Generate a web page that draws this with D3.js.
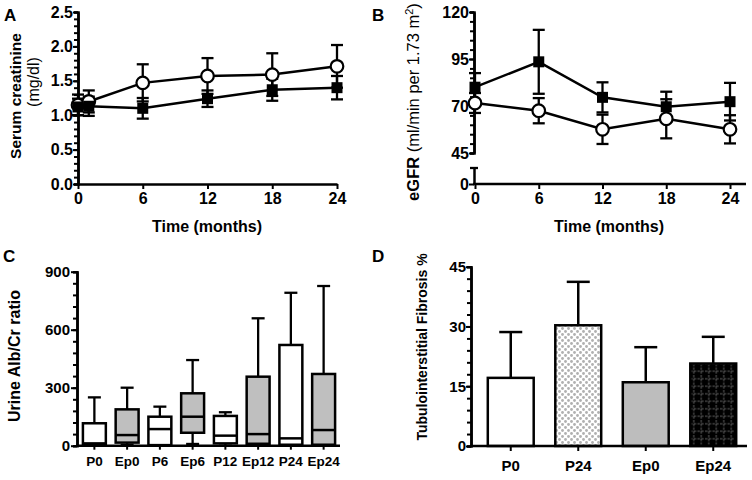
<!DOCTYPE html>
<html><head><meta charset="utf-8">
<script src="https://cdn.jsdelivr.net/npm/d3@7"></script>
<style>body{margin:0;background:#fff} svg{display:block}</style>
</head><body>
<svg id="c" width="752" height="480"></svg>
<script>
// ---- Data ----
const monthsA = [0, 1, 6, 12, 18, 24];
const creatOpen = [1.15, 1.20, 1.47, 1.57, 1.59, 1.71];
const creatOpenErr = [0.15, 0.16, 0.27, 0.26, 0.31, 0.31];
const creatFilled = [1.12, 1.13, 1.10, 1.24, 1.37, 1.40];
const creatFilledErr = [0.12, 0.14, 0.15, 0.12, 0.16, 0.17];
const creatTicks = [0, 0.5, 1.0, 1.5, 2.0, 2.5];

const monthsB = [0, 6, 12, 18, 24];
const egfrFilled = [80, 93.5, 74.6, 69.6, 72.3];
const egfrFilledErr = [7.5, 17, 8, 8, 10];
const egfrOpen = [71.6, 67.5, 57.6, 63.2, 57.6];
const egfrOpenErr = [5.3, 6.7, 7.8, 10.4, 7.5];
const egfrTicks = [45, 70, 95, 120];
const monthTicks = [0, 6, 12, 18, 24];

const boxCats = ["P0", "Ep0", "P6", "Ep6", "P12", "Ep12", "P24", "Ep24"];
const boxMin = [0, 5, 0, 9, 0, 0, 0, 0];
const boxQ1 = [3, 16, 3, 67, 12, 10, 5, 5];
const boxMed = [12, 55, 86, 150, 52, 60, 38, 81];
const boxQ3 = [116, 188, 150, 271, 154, 357, 521, 371];
const boxMax = [250, 300, 202, 443, 173, 659, 791, 826];
const albTicks = [0, 300, 600, 900];

const fibCats = ["P0", "P24", "Ep0", "Ep24"];
const fibMean = [17.1, 30.3, 16.0, 20.7];
const fibSD = [11.5, 10.9, 8.8, 6.7];
const fibTicks = [0, 15, 30, 45];

// ---- Setup ----
const FONT = '"Liberation Sans", Arial, Helvetica, sans-serif';
const svg = d3.select("#c");
const defs = svg.append("defs");

// patterns
const pDots = defs.append("pattern").attr("id", "dots").attr("patternUnits", "userSpaceOnUse")
  .attr("width", 6).attr("height", 6);
pDots.append("rect").attr("width", 6).attr("height", 6).attr("fill", "#fff");
pDots.append("circle").attr("cx", 1.5).attr("cy", 1.5).attr("r", 1.4).attr("fill", "#b0b0b0");
pDots.append("circle").attr("cx", 4.5).attr("cy", 4.5).attr("r", 1.4).attr("fill", "#b0b0b0");

const pGrid = defs.append("pattern").attr("id", "grid").attr("patternUnits", "userSpaceOnUse")
  .attr("width", 7.5).attr("height", 7.5);
pGrid.append("rect").attr("width", 7.5).attr("height", 7.5).attr("fill", "#000");
pGrid.append("line").attr("x1", 3.75).attr("x2", 3.75).attr("y1", 0).attr("y2", 7.5)
  .attr("stroke", "#777").attr("stroke-width", 0.8).attr("stroke-dasharray", "2.5,1.25");
pGrid.append("line").attr("y1", 3.75).attr("y2", 3.75).attr("x1", 0).attr("x2", 7.5)
  .attr("stroke", "#777").attr("stroke-width", 0.8).attr("stroke-dasharray", "2.5,1.25");

function styleAxis(g, fs) {
  g.attr("font-family", FONT);
  g.select(".domain").attr("stroke-width", 2.5).attr("stroke", "#000");
  g.selectAll(".tick line").attr("stroke-width", 2).attr("stroke", "#000");
  g.selectAll(".tick text").attr("font-size", fs).attr("font-weight", "bold").attr("fill", "#000");
}

function panelLetter(t, x, y) {
  svg.append("text").attr("x", x).attr("y", y).attr("font-family", FONT)
    .attr("font-size", 17).attr("font-weight", "bold").text(t);
}

function errBars(g, xs, ys, vals, errs, cap, both) {
  vals.forEach((v, i) => {
    const x = xs(i);
    const lo = both ? v - errs[i] : v;
    const hi = v + errs[i];
    g.append("line").attr("x1", x).attr("x2", x).attr("y1", ys(lo)).attr("y2", ys(hi))
      .attr("stroke", "#000").attr("stroke-width", 2.3);
    g.append("line").attr("x1", x - cap / 2).attr("x2", x + cap / 2).attr("y1", ys(hi)).attr("y2", ys(hi))
      .attr("stroke", "#000").attr("stroke-width", 2.3);
    if (both) g.append("line").attr("x1", x - cap / 2).attr("x2", x + cap / 2).attr("y1", ys(lo)).attr("y2", ys(lo))
      .attr("stroke", "#000").attr("stroke-width", 2.3);
  });
}

function series(g, xs, ys, months, vals, errs) {
  errBars(g, i => xs(months[i]), ys, vals, errs, 12, true);
  g.append("path").datum(vals)
    .attr("d", d3.line().x((d, i) => xs(months[i])).y(d => ys(d)))
    .attr("fill", "none").attr("stroke", "#000").attr("stroke-width", 2.5);
}
function markers(g, xs, ys, months, vals, type) {
  if (type === "sq") {
    g.selectAll(null).data(vals).join("rect")
      .attr("x", (d, i) => xs(months[i]) - 5.5).attr("y", d => ys(d) - 5.5)
      .attr("width", 11).attr("height", 11).attr("fill", "#000");
  } else {
    g.selectAll(null).data(vals).join("circle")
      .attr("cx", (d, i) => xs(months[i])).attr("cy", d => ys(d)).attr("r", 6.3)
      .attr("fill", "#fff").attr("stroke", "#000").attr("stroke-width", 2.2);
  }
}

function rotLabel(x, y, fs, weight, txt) {
  return svg.append("text").attr("transform", `translate(${x},${y}) rotate(-90)`)
    .attr("text-anchor", "middle").attr("font-family", FONT).attr("font-size", fs)
    .attr("font-weight", weight).text(txt);
}

// ---- Panel A ----
{
  const x = d3.scaleLinear().domain([0, 24]).range([78, 337]);
  const y = d3.scaleLinear().domain([0, 2.5]).range([184, 12]);
  const gm = svg.append("g").attr("transform", "translate(78,0)")
    .call(d3.axisLeft(y).tickValues(d3.range(0, 26).map(d => d / 10)).tickSize(4).tickFormat(""));
  styleAxis(gm, 16);
  const gy = svg.append("g").attr("transform", "translate(78,0)")
    .call(d3.axisLeft(y).tickValues(creatTicks).tickFormat(d3.format(".1f")).tickSize(5).tickSizeOuter(0).tickPadding(0));
  styleAxis(gy, 16);
  const gx = svg.append("g").attr("transform", "translate(0,184)")
    .call(d3.axisBottom(x).tickValues(monthTicks).tickSize(5).tickSizeOuter(0).tickPadding(4));
  styleAxis(gx, 16);
  const g = svg.append("g");
  series(g, x, y, monthsA, creatFilled, creatFilledErr);
  series(g, x, y, monthsA, creatOpen, creatOpenErr);
  markers(g, x, y, monthsA, creatOpen, "ci");
  markers(g, x, y, monthsA, creatFilled, "sq");
  svg.append("text").attr("x", 207).attr("y", 232).attr("text-anchor", "middle").attr("font-family", FONT)
    .attr("font-size", 16).attr("font-weight", "bold").text("Time (months)");
  rotLabel(21, 96, 15.5, "bold", "Serum creatinine");
  rotLabel(39, 82, 16, "normal", "(mg/dl)");
  panelLetter("A", 4, 21);
}

// ---- Panel B ----
{
  const x = d3.scaleLinear().domain([0, 24]).range([475, 730]);
  const y = d3.scaleLinear().domain([45, 120]).range([153, 12]);
  const y0 = d3.scaleLinear().domain([0, 1]).range([184, 168]);
  const gm = svg.append("g").attr("transform", "translate(474,0)")
    .call(d3.axisLeft(y).tickValues(d3.range(45, 121, 5)).tickSize(4).tickFormat(""));
  styleAxis(gm, 16);
  const gy = svg.append("g").attr("transform", "translate(474,0)")
    .call(d3.axisLeft(y).tickValues(egfrTicks).tickSize(5).tickSizeOuter(0).tickPadding(0));
  styleAxis(gy, 16);
  const gy0 = svg.append("g").attr("transform", "translate(474,0)")
    .call(d3.axisLeft(y0).tickValues([0]).tickFormat(d3.format("d")).tickSize(5).tickSizeOuter(0).tickPadding(0));
  styleAxis(gy0, 16);
  svg.append("line").attr("x1", 470).attr("x2", 478).attr("y1", y0(1)).attr("y2", y0(1))
    .attr("stroke", "#000").attr("stroke-width", 2.3);
  const gx = svg.append("g").attr("transform", "translate(0,184)")
    .call(d3.axisBottom(x).tickValues(monthTicks).tickSize(5).tickSizeOuter(0).tickPadding(4));
  styleAxis(gx, 16);
  gx.select(".domain").remove();
  svg.append("line").attr("x1", 473).attr("x2", 746).attr("y1", 184).attr("y2", 184)
    .attr("stroke", "#000").attr("stroke-width", 2.5);
  const g = svg.append("g");
  series(g, x, y, monthsB, egfrOpen, egfrOpenErr);
  series(g, x, y, monthsB, egfrFilled, egfrFilledErr);
  markers(g, x, y, monthsB, egfrFilled, "sq");
  markers(g, x, y, monthsB, egfrOpen, "ci");
  svg.append("text").attr("x", 609).attr("y", 232).attr("text-anchor", "middle").attr("font-family", FONT)
    .attr("font-size", 16).attr("font-weight", "bold").text("Time (months)");
  const t = rotLabel(419, 102, 16.5, "normal", "");
  t.append("tspan").attr("font-weight", "bold").text("eGFR");
  t.append("tspan").text(" (ml/min per 1.73 m");
  t.append("tspan").attr("font-size", 11).attr("dy", -6).text("2");
  t.append("tspan").attr("dy", 6).text(")");
  panelLetter("B", 372, 21);
}

// ---- Panel C ----
{
  const x = d3.scaleBand().domain(boxCats).range([78, 340]).paddingInner(0.3).paddingOuter(0.15);
  const y = d3.scaleLinear().domain([0, 900]).range([445.7, 271.7]);
  const gm = svg.append("g").attr("transform", "translate(77,0)")
    .call(d3.axisLeft(y).tickValues(d3.range(0, 901, 60)).tickSize(4).tickFormat(""));
  styleAxis(gm, 15);
  const gy = svg.append("g").attr("transform", "translate(77,0)")
    .call(d3.axisLeft(y).tickValues(albTicks).tickSize(6).tickSizeOuter(0).tickPadding(1));
  styleAxis(gy, 15);
  const g = svg.append("g");
  const bw = x.bandwidth();
  boxCats.forEach((c, i) => {
    const cx = x(c) + bw / 2;
    const fill = c.startsWith("Ep") ? "#bfbfbf" : "#fff";
    g.append("line").attr("x1", cx).attr("x2", cx).attr("y1", y(boxQ3[i])).attr("y2", y(boxMax[i]))
      .attr("stroke", "#000").attr("stroke-width", 2.3);
    g.append("line").attr("x1", cx - 6.5).attr("x2", cx + 6.5).attr("y1", y(boxMax[i])).attr("y2", y(boxMax[i]))
      .attr("stroke", "#000").attr("stroke-width", 2.3);
    g.append("line").attr("x1", cx).attr("x2", cx).attr("y1", y(boxQ1[i])).attr("y2", y(boxMin[i]))
      .attr("stroke", "#000").attr("stroke-width", 2.3);
    g.append("line").attr("x1", cx - 6.5).attr("x2", cx + 6.5).attr("y1", y(boxMin[i])).attr("y2", y(boxMin[i]))
      .attr("stroke", "#000").attr("stroke-width", 2.3);
    g.append("rect").attr("x", x(c)).attr("width", bw).attr("y", y(boxQ3[i]))
      .attr("height", y(boxQ1[i]) - y(boxQ3[i])).attr("fill", fill).attr("stroke", "#000").attr("stroke-width", 2.5);
    g.append("line").attr("x1", x(c)).attr("x2", x(c) + bw).attr("y1", y(boxMed[i])).attr("y2", y(boxMed[i]))
      .attr("stroke", "#000").attr("stroke-width", 2.5);
  });
  const gx = svg.append("g").attr("transform", "translate(0,445.7)")
    .call(d3.axisBottom(x).tickSize(4).tickSizeOuter(0).tickPadding(7));
  styleAxis(gx, 13.5);
  gx.select(".domain").remove();
  svg.append("line").attr("x1", 76).attr("x2", 340).attr("y1", 445.7).attr("y2", 445.7)
    .attr("stroke", "#000").attr("stroke-width", 2.5);
  rotLabel(20, 356, 16, "bold", "Urine Alb/Cr ratio");
  panelLetter("C", 3, 262);
}

// ---- Panel D ----
{
  const x = d3.scaleBand().domain(fibCats).range([477, 747]).paddingInner(0.32).paddingOuter(0.16);
  const y = d3.scaleLinear().domain([0, 45]).range([446, 266.7]);
  const gm = svg.append("g").attr("transform", "translate(471,0)")
    .call(d3.axisLeft(y).tickValues(d3.range(0, 46, 3)).tickSize(4).tickFormat(""));
  styleAxis(gm, 15);
  const gy = svg.append("g").attr("transform", "translate(471,0)")
    .call(d3.axisLeft(y).tickValues(fibTicks).tickSize(5).tickSizeOuter(0).tickPadding(0));
  styleAxis(gy, 15);
  const fills = ["#fff", "url(#dots)", "#bdbdbd", "url(#grid)"];
  const g = svg.append("g");
  const bw = x.bandwidth();
  fibCats.forEach((c, i) => {
    const cx = x(c) + bw / 2;
    g.append("line").attr("x1", cx).attr("x2", cx).attr("y1", y(fibMean[i])).attr("y2", y(fibMean[i] + fibSD[i]))
      .attr("stroke", "#000").attr("stroke-width", 2.5);
    g.append("line").attr("x1", cx - 11.5).attr("x2", cx + 11.5)
      .attr("y1", y(fibMean[i] + fibSD[i])).attr("y2", y(fibMean[i] + fibSD[i]))
      .attr("stroke", "#000").attr("stroke-width", 2.5);
    g.append("rect").attr("x", x(c)).attr("width", bw).attr("y", y(fibMean[i]))
      .attr("height", y(0) - y(fibMean[i])).attr("fill", fills[i]).attr("stroke", "#000").attr("stroke-width", 2.5);
  });
  const gx = svg.append("g").attr("transform", "translate(0,446)")
    .call(d3.axisBottom(x).tickSize(5).tickSizeOuter(0).tickPadding(9));
  styleAxis(gx, 15);
  gx.select(".domain").remove();
  svg.append("line").attr("x1", 470).attr("x2", 747).attr("y1", 446).attr("y2", 446)
    .attr("stroke", "#000").attr("stroke-width", 2.5);
  rotLabel(427, 347, 14, "bold", "Tubulointerstitial Fibrosis %");
  panelLetter("D", 372, 262);
}
</script></body></html>
